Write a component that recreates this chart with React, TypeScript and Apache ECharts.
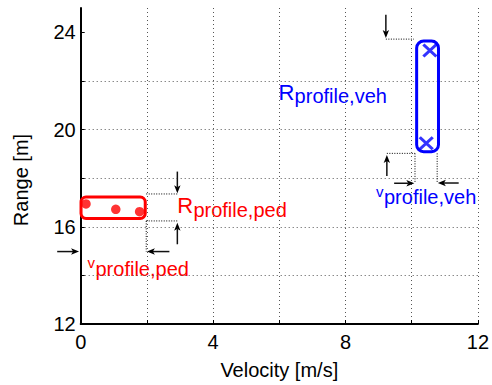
import React, { useEffect, useRef } from "react";
import * as echarts from "echarts";

// ---- data ----
const xTicks = [0, 4, 8, 12];
const yTicks = [12, 16, 20, 24];
const pedVelocity = [0.16, 1.06, 1.78];
const pedRange = [16.94, 16.72, 16.62];
const vehVelocity = [10.55, 10.44];
const vehRange = [23.25, 19.44];
// boxes: [x0, y0, x1, y1]
const pedBox = [0.01, 16.34, 1.95, 17.22];
const vehBox = [10.15, 19.09, 10.81, 23.64];
// dotted guide segments: [x0, y0, x1, y1]
const guideSegments = [
  [1.98, 17.35, 2.92, 17.35],
  [1.98, 16.24, 2.92, 16.24],
  [1.98, 16.24, 1.98, 14.98],
  [9.22, 23.72, 10.07, 23.72],
  [9.25, 19.02, 10.1, 19.02],
  [10.1, 19.02, 10.1, 17.79],
  [10.77, 19.02, 10.77, 17.79],
];
// arrows: [tailX, tailY, tipX, tipY]
const arrowSegments = [
  [2.92, 18.27, 2.92, 17.38],
  [2.92, 15.28, 2.92, 16.17],
  [2.68, 14.98, 2.0, 14.98],
  [-0.71, 14.98, -0.05, 14.98],
  [9.22, 24.72, 9.22, 23.77],
  [9.25, 18.09, 9.25, 18.95],
  [9.47, 17.79, 10.08, 17.79],
  [11.42, 17.8, 10.79, 17.8],
];

const RED = "#ff0000";
const BLUE = "#0000ff";
const FONT = "'Liberation Sans', Arial, sans-serif";

export default function App() {
  const ref = useRef<HTMLDivElement>(null);
  useEffect(() => {
    if (!ref.current) return;
    const chart = echarts.init(ref.current, null, { renderer: "svg" });
    const gridLine = { show: true, lineStyle: { color: "#555", width: 1, type: [1, 3] as any } };
    const option: any = {
      animation: false,
      backgroundColor: "#fff",
      grid: { left: 80.7, right: 11, top: 8, bottom: 61, containLabel: false },
      xAxis: {
        type: "value",
        min: 0,
        max: 12,
        interval: 2,
        name: "Velocity [m/s]",
        nameLocation: "middle",
        nameGap: 36,
        nameTextStyle: { fontSize: 20, color: "#000", fontFamily: FONT },
        axisLine: { show: true, lineStyle: { color: "#000", width: 2 } },
        axisTick: { show: true, inside: true, length: 4, lineStyle: { color: "#000", width: 1 } },
        axisLabel: {
          fontSize: 20,
          color: "#000",
          fontFamily: FONT,
          margin: 8,
          formatter: (v: number) => (xTicks.includes(v) ? String(v) : ""),
        },
        splitLine: { ...gridLine, showMinLine: false, showMaxLine: true },
      },
      yAxis: {
        type: "value",
        min: 12,
        max: 25,
        interval: 2,
        name: "Range [m]",
        nameLocation: "middle",
        nameGap: 50,
        nameRotate: 90,
        nameTextStyle: { fontSize: 20, color: "#000", fontFamily: FONT, padding: [0, 0, 0, -28] },
        axisLine: { show: true, lineStyle: { color: "#000", width: 2 } },
        axisTick: {
          show: true,
          inside: true,
          length: 4,
          lineStyle: { color: "#000", width: 1 },
          customValues: [12, 14, 16, 18, 20, 22, 24],
        },
        axisLabel: {
          fontSize: 20,
          color: "#000",
          fontFamily: FONT,
          margin: 5,
          formatter: (v: number) => (yTicks.includes(v) ? String(v) : ""),
        },
        splitLine: { ...gridLine, showMinLine: false, showMaxLine: false },
      },
      series: [
        {
          type: "custom",
          clip: false,
          silent: true,
          data: [
            [...pedBox, 0],
            [...vehBox, 1],
          ],
          encode: { x: [0, 2], y: [1, 3] },
          renderItem: (params: any, api: any) => {
            const a = api.coord([api.value(0), api.value(3)]);
            const b = api.coord([api.value(2), api.value(1)]);
            const isVeh = api.value(4) === 1;
            return {
              type: "rect",
              shape: { x: a[0], y: a[1], width: b[0] - a[0], height: b[1] - a[1], r: isVeh ? 7 : 5 },
              style: { fill: "none", stroke: isVeh ? BLUE : RED, lineWidth: 3 },
            };
          },
          z: 3,
        },
        {
          type: "custom",
          clip: false,
          silent: true,
          data: guideSegments,
          encode: { x: [0, 2], y: [1, 3] },
          renderItem: (params: any, api: any) => {
            const a = api.coord([api.value(0), api.value(1)]);
            const b = api.coord([api.value(2), api.value(3)]);
            return {
              type: "line",
              shape: { x1: a[0], y1: a[1], x2: b[0], y2: b[1] },
              style: { stroke: "#000", lineWidth: 1, lineDash: [1, 1.5] },
            };
          },
          z: 2,
        },
        {
          type: "custom",
          clip: false,
          silent: true,
          data: arrowSegments,
          encode: { x: [0, 2], y: [1, 3] },
          renderItem: (params: any, api: any) => {
            const a = api.coord([api.value(0), api.value(1)]);
            const b = api.coord([api.value(2), api.value(3)]);
            const dx = b[0] - a[0];
            const dy = b[1] - a[1];
            const len = Math.hypot(dx, dy) || 1;
            const ux = dx / len;
            const uy = dy / len;
            const hl = 8;
            const hw = 3.2;
            const bx = b[0] - ux * hl;
            const by = b[1] - uy * hl;
            return {
              type: "group",
              children: [
                {
                  type: "line",
                  shape: { x1: a[0], y1: a[1], x2: bx + ux * 2, y2: by + uy * 2 },
                  style: { stroke: "#111", lineWidth: 1.5 },
                },
                {
                  type: "polygon",
                  shape: {
                    points: [
                      [b[0], b[1]],
                      [bx - uy * hw, by + ux * hw],
                      [bx + ux * 2, by + uy * 2],
                      [bx + uy * hw, by - ux * hw],
                    ],
                  },
                  style: { fill: "#000", stroke: "none" },
                },
              ],
            };
          },
          z: 4,
        },
        {
          name: "Pedestrian",
          type: "scatter",
          data: pedVelocity.map((v, i) => [v, pedRange[i]]),
          symbol: "circle",
          symbolSize: 9.5,
          itemStyle: { color: RED },
          z: 5,
        },
        {
          name: "Vehicle",
          type: "scatter",
          data: vehVelocity.map((v, i) => [v, vehRange[i]]),
          symbol: "path://M0,0L10,10M10,0L0,10",
          symbolSize: [13, 12],
          itemStyle: { color: "none", borderColor: BLUE, borderWidth: 3 },
          z: 5,
        },
      ],
      graphic: [
        { type: "text", x: 177.2, y: 205.6, style: { text: "R", fontSize: 22, fill: RED, fontFamily: FONT, verticalAlign: "middle" } },
        { type: "text", x: 193.4, y: 210.3, style: { text: "profile,ped", fontSize: 20, fill: RED, fontFamily: FONT, verticalAlign: "middle" } },
        { type: "text", x: 87.5, y: 262, style: { text: "v", fontSize: 15, fill: RED, fontFamily: FONT, verticalAlign: "middle" } },
        { type: "text", x: 95.5, y: 269, style: { text: "profile,ped", fontSize: 20, fill: RED, fontFamily: FONT, verticalAlign: "middle" } },
        { type: "text", x: 278.4, y: 92.3, style: { text: "R", fontSize: 22, fill: BLUE, fontFamily: FONT, verticalAlign: "middle" } },
        { type: "text", x: 294.6, y: 96.3, style: { text: "profile,veh", fontSize: 20, fill: BLUE, fontFamily: FONT, verticalAlign: "middle" } },
        { type: "text", x: 376, y: 191.5, style: { text: "v", fontSize: 15, fill: BLUE, fontFamily: FONT, verticalAlign: "middle" } },
        { type: "text", x: 384, y: 197, style: { text: "profile,veh", fontSize: 20, fill: BLUE, fontFamily: FONT, verticalAlign: "middle" } },
      ],
    };
    chart.setOption(option);
    return () => chart.dispose();
  }, []);
  return (
    <div
      ref={ref}
      style={{ position: "absolute", left: 0, top: 0, width: 492, height: 385, background: "#fff" }}
    />
  );
}
